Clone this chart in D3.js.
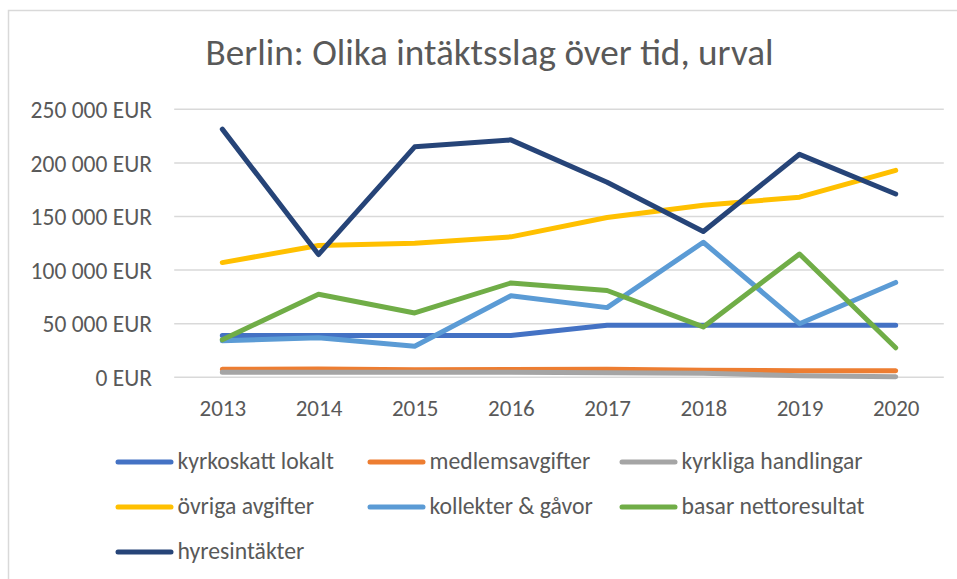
<!DOCTYPE html>
<html>
<head>
<meta charset="utf-8">
<script src="https://cdn.jsdelivr.net/npm/d3@7"></script>
<style>
  body { margin: 0; background: #fff; }
  svg text { font-family: Carlito, Calibri, "Liberation Sans Narrow", "Open Sans", sans-serif; fill: #595959; }
</style>
</head>
<body>
<div id="chart"></div>
<script>
var svgWidth = 957;
var svgHeight = 579;

// data
var years = ["2013", "2014", "2015", "2016", "2017", "2018", "2019", "2020"];
var seriesNames = ["kyrkoskatt lokalt", "medlemsavgifter", "kyrkliga handlingar",
  "övriga avgifter", "kollekter & gåvor", "basar nettoresultat", "hyresintäkter"];
var kyrkoskatt = [39000, 39000, 39000, 39000, 48500, 48500, 48500, 48500];
var medlemsavgifter = [7500, 7800, 7000, 7300, 7500, 6600, 6200, 6000];
var kyrkliga = [4700, 4800, 4700, 4700, 4300, 3700, 1500, 500];
var ovriga = [107000, 123000, 125000, 131000, 149000, 160500, 168000, 193000];
var kollekter = [34000, 37000, 29000, 76000, 65000, 126000, 50000, 88500];
var basar = [35000, 77500, 60000, 88000, 81000, 47000, 115000, 27500];
var hyres = [231500, 114500, 215000, 221500, 182000, 136000, 208000, 171000];
var yTicks = [0, 50000, 100000, 150000, 200000, 250000];
var colors = ["#4472C4", "#ED7D31", "#A5A5A5", "#FFC000", "#5B9BD5", "#70AD47", "#264478"];

var allSeries = [kyrkoskatt, medlemsavgifter, kyrkliga, ovriga, kollekter, basar, hyres];

var svg = d3.select("#chart")
  .append("svg")
  .attr("width", svgWidth)
  .attr("height", svgHeight);

// chart area border (runs off the right and bottom edge)
svg.append("rect")
  .attr("x", 8.5)
  .attr("y", 10.5)
  .attr("width", 1000)
  .attr("height", 700)
  .attr("fill", "#fff")
  .attr("stroke", "#D9D9D9")
  .attr("stroke-width", 1.5);

svg.append("text")
  .attr("x", 489.5)
  .attr("y", 65)
  .attr("text-anchor", "middle")
  .attr("font-size", "37.2px")
  .text("Berlin: Olika intäktsslag över tid, urval");

var xScale = d3.scalePoint()
  .domain(years)
  .range([174.2, 943.8])
  .padding(0.5);

var yScale = d3.scaleLinear()
  .domain([0, 250000])
  .range([377.3, 109.3]);

var locale = d3.formatLocale({ decimal: ",", thousands: " ", grouping: [3], currency: ["", " EUR"] });
var fmt = locale.format(",");

// gridlines
svg.append("g")
  .selectAll("line")
  .data(yTicks)
  .enter()
  .append("line")
  .attr("x1", 174.2)
  .attr("x2", 943.8)
  .attr("y1", d => yScale(d))
  .attr("y2", d => yScale(d))
  .attr("stroke", "#D9D9D9")
  .attr("stroke-width", 1.5);

// y axis labels
var yAxis = d3.axisLeft(yScale)
  .tickValues(yTicks)
  .tickSize(0)
  .tickPadding(0)
  .tickFormat(d => fmt(d) + " EUR");

svg.append("g")
  .attr("transform", "translate(152, 0)")
  .call(yAxis)
  .call(g => g.select(".domain").remove())
  .call(g => g.selectAll("text").attr("font-size", "23.5px").attr("dy", "0.35em").attr("fill", "#595959"));

// x axis labels
var xAxis = d3.axisBottom(xScale)
  .tickSize(0)
  .tickPadding(0);

svg.append("g")
  .attr("transform", "translate(0, 399)")
  .call(xAxis)
  .call(g => g.select(".domain").remove())
  .call(g => g.selectAll("text").attr("font-size", "23px").attr("dy", "0.76em").attr("fill", "#595959"));

// lines
var line = d3.line()
  .x((d, i) => xScale(years[i]))
  .y(d => yScale(d));

svg.append("g")
  .selectAll("path")
  .data(allSeries)
  .enter()
  .append("path")
  .attr("d", d => line(d))
  .attr("fill", "none")
  .attr("stroke", (d, i) => colors[i])
  .attr("stroke-width", 5)
  .attr("stroke-linecap", "round")
  .attr("stroke-linejoin", "round");

// legend, 3 columns
var legendCols = [118, 370, 622];
var legendRows = [462, 507, 552];

var legend = svg.append("g")
  .selectAll("g")
  .data(seriesNames)
  .enter()
  .append("g")
  .attr("transform", (d, i) => `translate(${legendCols[i % 3]}, ${legendRows[Math.floor(i / 3)]})`);

legend.append("line")
  .attr("x1", 0)
  .attr("x2", 53)
  .attr("stroke", (d, i) => colors[i])
  .attr("stroke-width", 5)
  .attr("stroke-linecap", "round");

legend.append("text")
  .attr("x", 59.5)
  .attr("y", 7)
  .attr("font-size", "23.7px")
  .text(d => d);
</script>
</body>
</html>
